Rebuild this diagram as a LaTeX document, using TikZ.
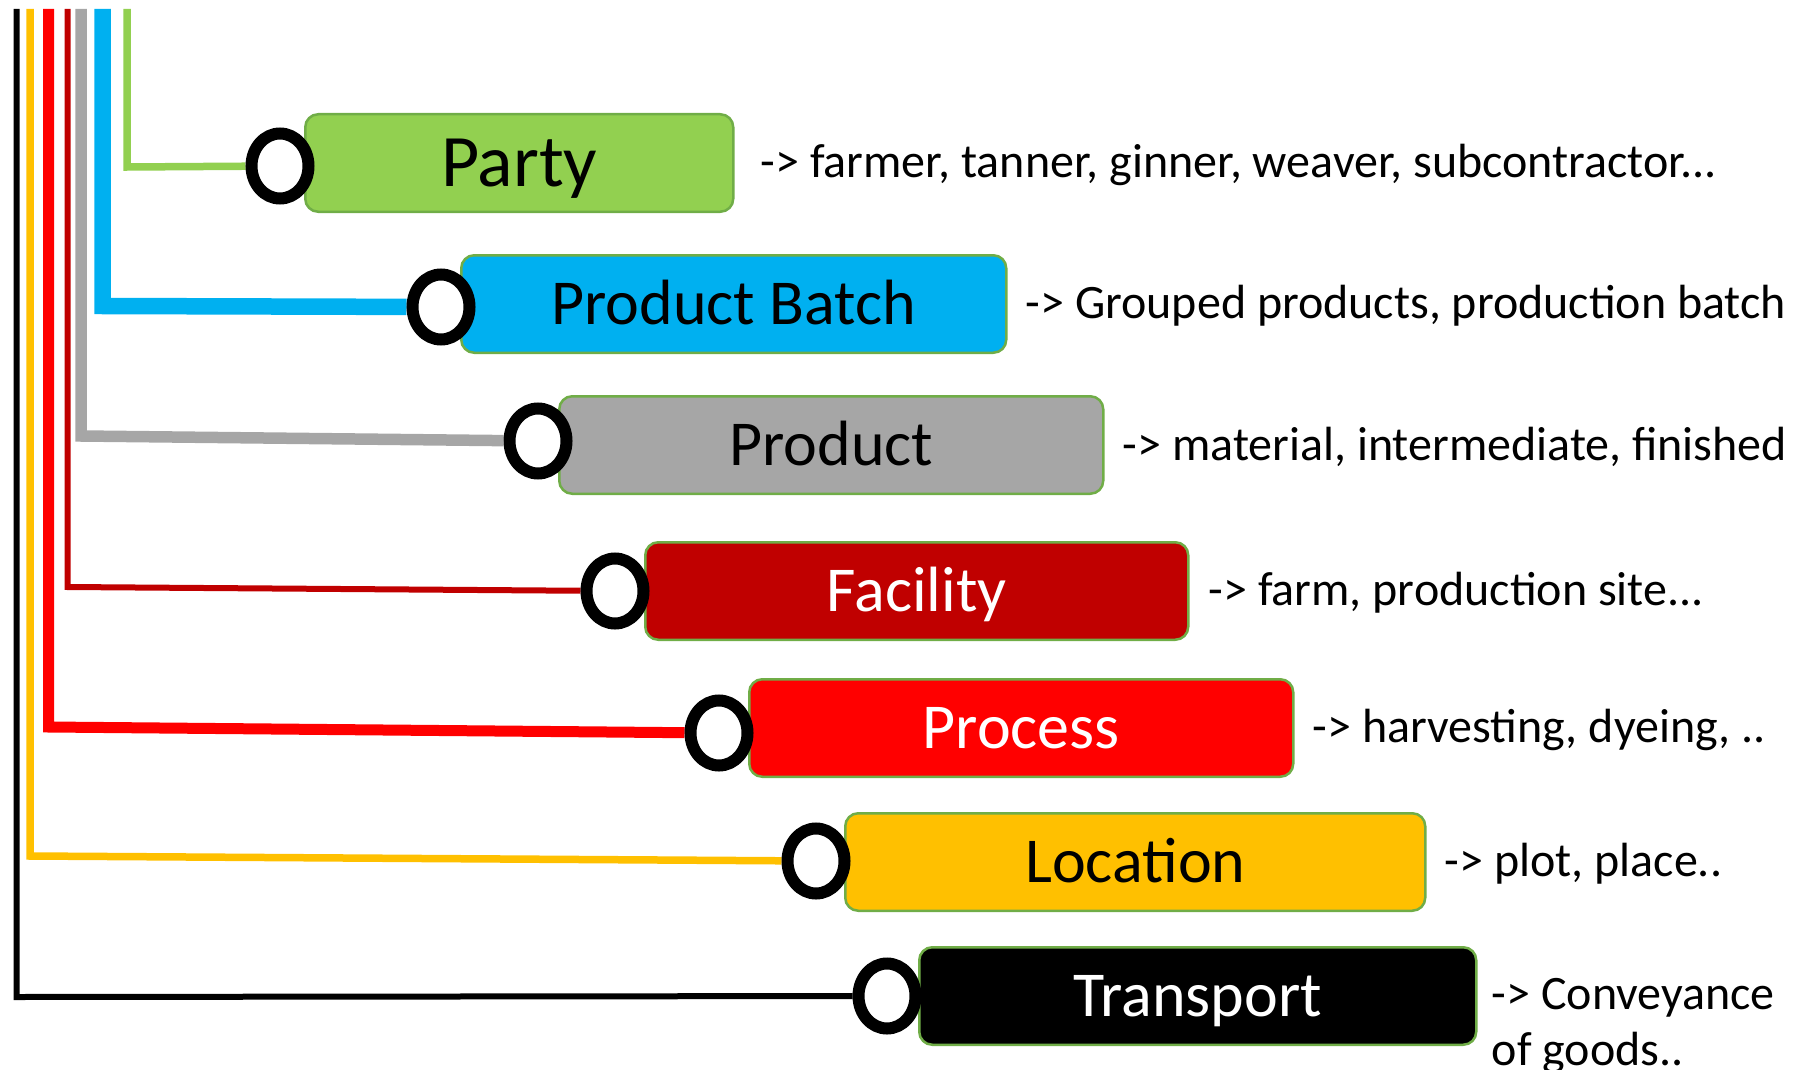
\documentclass[tikz,border=0pt]{standalone}
\usepackage{fontspec}
\setmainfont{Carlito}
\usetikzlibrary{positioning,shapes.geometric,backgrounds}
\definecolor{partygreen}{HTML}{92D050}
\definecolor{batchblue}{HTML}{00B0F0}
\definecolor{prodgray}{HTML}{A6A6A6}
\definecolor{facred}{HTML}{C00000}
\definecolor{procred}{HTML}{FF0000}
\definecolor{locyellow}{HTML}{FFC000}
\definecolor{rimgreen}{HTML}{70AD47}

\begin{document}
\begin{tikzpicture}[x=1pt,y=-1pt,
  entity/.style={draw=rimgreen, line width=2.5pt, rounded corners=13pt, minimum height=97.5pt, inner sep=0pt, anchor=west, font=\fontsize{64}{72}\selectfont, text height=40pt, text depth=0pt},
  ring/.style={ellipse, draw=black, line width=12pt, fill=white, minimum width=57pt, minimum height=65pt, inner sep=0pt},
  note/.style={font=\fontsize{48}{56}\selectfont, inner sep=0pt, anchor=west, yshift=-2pt}]
  \useasboundingbox (0,0) rectangle (1799,1070);

  \node[entity, fill=partygreen, minimum width=428pt, font=\fontsize{74}{82}\selectfont, text height=46pt] (party) at (304,163) {Party};
  \node[entity, fill=batchblue, minimum width=545pt] (batch) at (460,304) {Product Batch};
  \node[entity, fill=prodgray, minimum width=544pt] (prod) at (558,445) {Product};
  \node[entity, fill=facred, text=white, minimum width=543pt] (fac) at (644,591) {Facility};
  \node[entity, fill=procred, text=white, minimum width=544pt] (proc) at (748,728) {Process};
  \node[entity, fill=locyellow, minimum width=580pt] (loc) at (844,862) {Location};
  \node[entity, fill=black, text=white, minimum width=557pt] (trans) at (918,996) {Transport};

  \node[ring] (c-party) at (280,166) {};
  \node[ring] (c-batch) at (441,307) {};
  \node[ring] (c-prod) at (538,441) {};
  \node[ring] (c-fac) at (615,591) {};
  \node[ring] (c-proc) at (719,733) {};
  \node[ring] (c-loc) at (816,861) {};
  \node[ring] (c-trans) at (887,996) {};

  \node[note, right=26pt of party] (n-party) {-> farmer, tanner, ginner, weaver, subcontractor...};
  \node[note, right=18pt of batch] (n-batch) {-> Grouped products, production batch};
  \node[note, right=18pt of prod] (n-prod) {-> material, intermediate, finished};
  \node[note, right=19pt of fac] (n-fac) {-> farm, production site...};
  \node[note, right=18pt of proc] (n-proc) {-> harvesting, dyeing, ..};
  \node[note, right=18pt of loc] (n-loc) {-> plot, place..};
  \node[note, align=left, right=14pt of trans, yshift=-28pt] (n-trans) {-> Conveyance\\of goods..};

  \coordinate (top-party) at (127,9);     \coordinate (k-party) at (127,167);
  \coordinate (top-batch) at (102.5,9);   \coordinate (k-batch) at (102.5,306);
  \coordinate (top-prod) at (81,9);       \coordinate (k-prod) at (81,436);
  \coordinate (top-fac) at (67.5,9);      \coordinate (k-fac) at (67.5,587);
  \coordinate (top-proc) at (48.5,9);     \coordinate (k-proc) at (48.5,727);
  \coordinate (top-loc) at (30,9);        \coordinate (k-loc) at (30,856);
  \coordinate (top-trans) at (16.5,9);    \coordinate (k-trans) at (16.5,997);

  \begin{scope}[on background layer]
    \draw[partygreen, line width=7.5pt] (top-party) -- (k-party) -- (c-party);
    \draw[batchblue, line width=16.5pt] (top-batch) -- (k-batch) -- (c-batch);
    \draw[prodgray, line width=11.5pt] (top-prod) -- (k-prod) -- (c-prod);
    \draw[facred, line width=6pt] (top-fac) -- (k-fac) -- (c-fac);
    \draw[procred, line width=11pt] (top-proc) -- (k-proc) -- (c-proc);
    \draw[locyellow, line width=7.5pt] (top-loc) -- (k-loc) -- (c-loc);
    \draw[black, line width=6pt] (top-trans) -- (k-trans) -- (c-trans);
  \end{scope}
\end{tikzpicture}
\end{document}
